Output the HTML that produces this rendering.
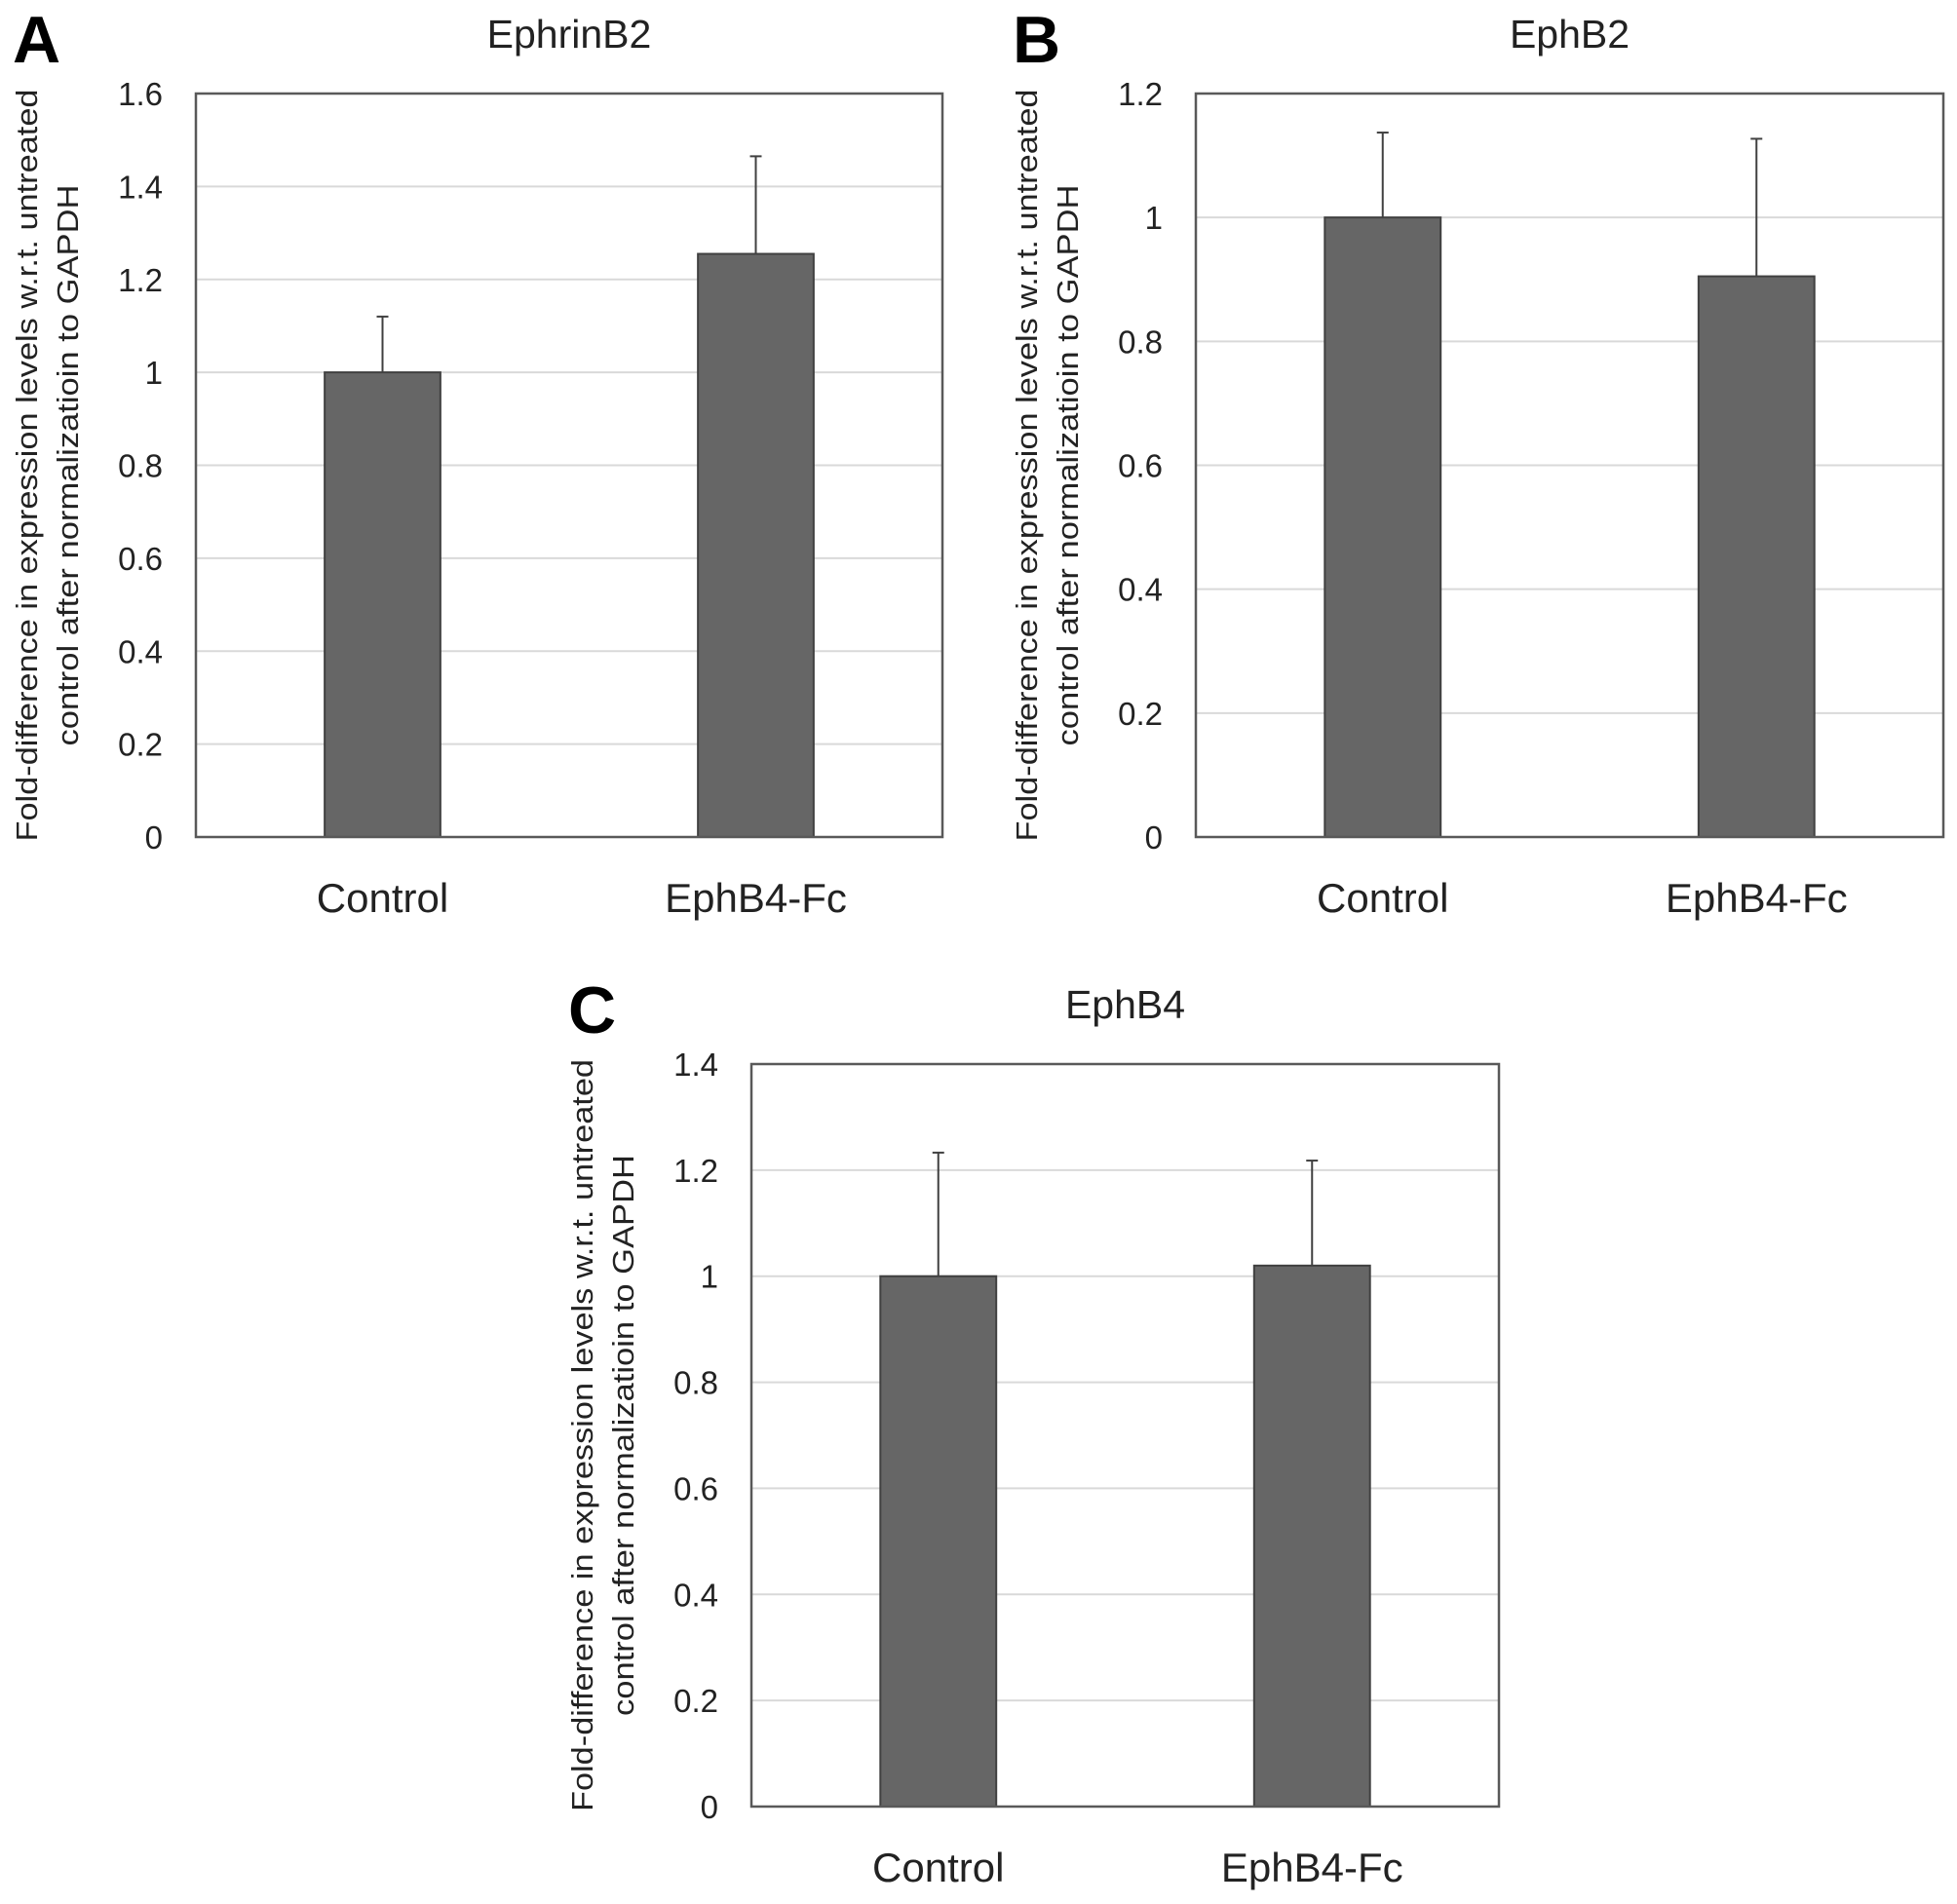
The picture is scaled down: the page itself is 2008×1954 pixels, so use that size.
<!DOCTYPE html>
<html><head><meta charset="utf-8">
<style>
html,body{margin:0;padding:0;background:#fff;}
svg{display:block;font-family:"Liberation Sans",sans-serif;}
</style></head>
<body>
<svg id="fig" width="2008" height="1954" viewBox="0 0 2008 1954" xmlns="http://www.w3.org/2000/svg"></svg>
<script>
const categories = ["Control", "EphB4-Fc"];
const titles = ["EphrinB2", "EphB2", "EphB4"];
const letters = ["A", "B", "C"];
const valuesA = [1.0, 1.255];
const errorsA = [1.12, 1.465];
const valuesB = [1.0, 0.905];
const errorsB = [1.137, 1.127];
const valuesC = [1.0, 1.02];
const errorsC = [1.233, 1.218];
const ticksA = [0, 0.2, 0.4, 0.6, 0.8, 1, 1.2, 1.4, 1.6];
const ticksB = [0, 0.2, 0.4, 0.6, 0.8, 1, 1.2];
const ticksC = [0, 0.2, 0.4, 0.6, 0.8, 1, 1.2, 1.4];

const NS = "http://www.w3.org/2000/svg";
const svg = document.getElementById("fig");
function mk(tag, attrs, parent) {
  const e = document.createElementNS(NS, tag);
  for (const k in attrs) e.setAttribute(k, attrs[k]);
  (parent || svg).appendChild(e);
  return e;
}
const panels = [
  {L:201, R:967, T:96, B:859, vals:valuesA, errs:errorsA, ticks:ticksA},
  {L:1227, R:1994, T:96, B:859, vals:valuesB, errs:errorsB, ticks:ticksB},
  {L:771, R:1538, T:1092, B:1854, vals:valuesC, errs:errorsC, ticks:ticksC}
];
panels.forEach((p, pi) => {
  const g = mk("g", {});
  
  
  const maxV = p.ticks[p.ticks.length - 1];
  const y = v => p.B - (v / maxV) * (p.B - p.T);
  const w = p.R - p.L;
  const x = i => p.L + w * (i + 0.5) / categories.length;
  const barW = w * 0.155;
  p.ticks.forEach(t => {
    if (t > 0 && t < maxV) {
      const gl = mk("line", {x1:p.L, x2:p.R, y1:y(t), y2:y(t), stroke:"#d9d9d9", "stroke-width":2}, g);
      
      
    }
    const tl = mk("text", {x:p.L - 34, y:y(t) + 12, "text-anchor":"end", "font-size":33, fill:"#222"}, g);
    tl.textContent = String(t);
    
    
  });
  p.vals.forEach((v, i) => {
    const r = mk("rect", {x:x(i) - barW/2, y:y(v), width:barW, height:p.B - y(v), fill:"#666666", stroke:"#404040", "stroke-width":2}, g);
    
    
    const e1 = mk("line", {x1:x(i), x2:x(i), y1:y(v), y2:y(p.errs[i]), stroke:"#404040", "stroke-width":2}, g);
    
    
    const e2 = mk("line", {x1:x(i) - 6, x2:x(i) + 6, y1:y(p.errs[i]), y2:y(p.errs[i]), stroke:"#404040", "stroke-width":2}, g);
    
    
    const cl = mk("text", {x:x(i), y:p.B + 77, "text-anchor":"middle", "font-size":42, fill:"#222"}, g);
    cl.textContent = categories[i];
    
    
  });
  const fr = mk("rect", {x:p.L, y:p.T, width:w, height:p.B - p.T, fill:"none", stroke:"#595959", "stroke-width":2.5}, g);
  
  
  const tt = mk("text", {x:(p.L + p.R)/2, y:p.T - 47, "text-anchor":"middle", "font-size":41, fill:"#222"}, g);
  tt.textContent = titles[pi];
  
  
  const lt = mk("text", {x:p.L - 188, y:p.T - 32, "font-size":68, "font-weight":"bold", fill:"#000"}, g);
  lt.textContent = letters[pi];
  
  
  const cy = (p.T + p.B) / 2;
  const yt = mk("text", {transform:"translate(" + (p.L - 163) + "," + cy + ") rotate(-90)", "text-anchor":"middle", "font-size":31, fill:"#222"}, g);
  
  
  const s1 = mk("tspan", {x:0, y:0, textLength:772, lengthAdjust:"spacingAndGlyphs"}, yt);
  s1.textContent = "Fold-difference in expression levels w.r.t. untreated";
  const s2 = mk("tspan", {x:0, y:42, textLength:576, lengthAdjust:"spacingAndGlyphs"}, yt);
  s2.textContent = "control after normalizatioin to GAPDH";
});
</script>
</body></html>
